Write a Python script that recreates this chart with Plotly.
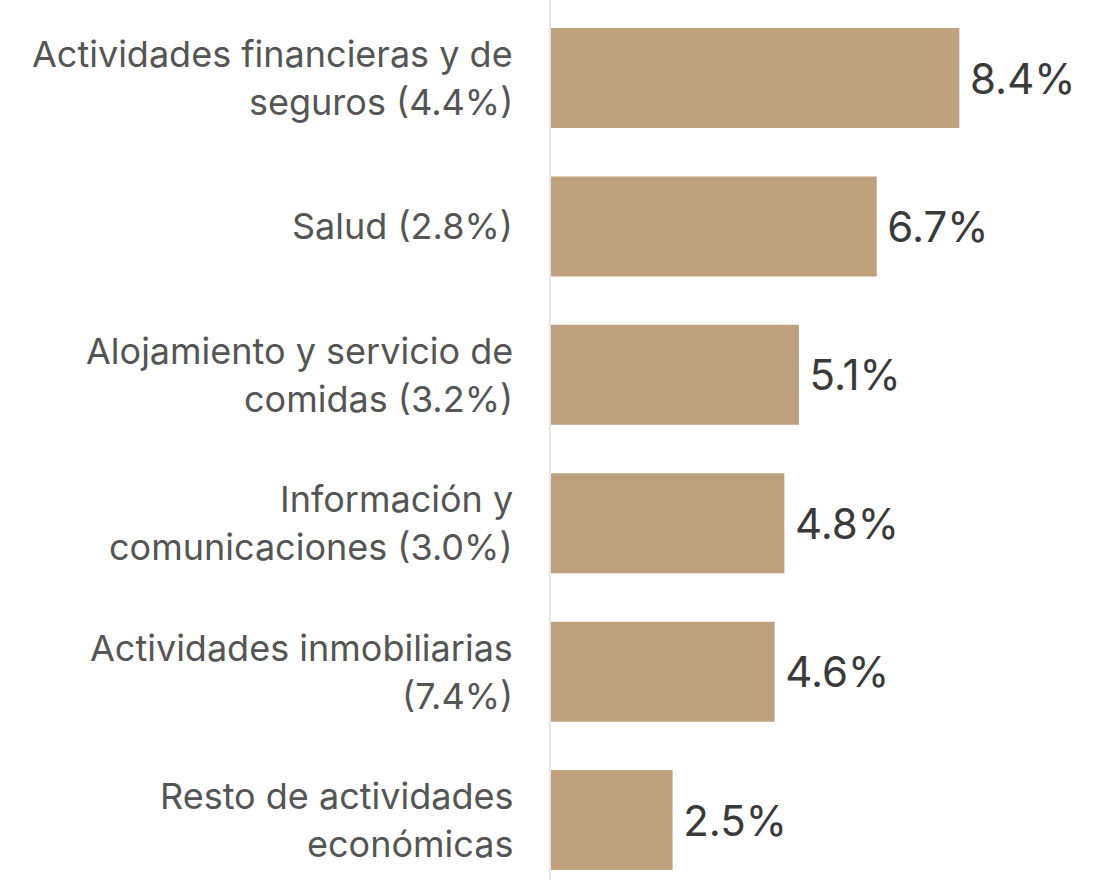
import plotly.graph_objects as go

categories = [
    "Actividades financieras y de<br>seguros (4.4%)",
    "Salud (2.8%)",
    "Alojamiento y servicio de<br>comidas (3.2%)",
    "Información y<br>comunicaciones (3.0%)",
    "Actividades inmobiliarias<br>(7.4%)",
    "Resto de actividades<br>económicas",
]
values = [8.4, 6.7, 5.1, 4.8, 4.6, 2.5]
value_labels = ["8.4%", "6.7%", "5.1%", "4.8%", "4.6%", "2.5%"]

FONT = "Inter"

fig = go.Figure(
    go.Bar(
        x=values,
        y=categories,
        orientation="h",
        marker=dict(color="#C0A17E", line=dict(width=0)),
        text=["\u2009" + t for t in value_labels],
        textposition="outside",
        textfont=dict(family=FONT, size=42, color="#3a3a3a"),
        cliponaxis=False,
        hoverinfo="skip",
    )
)

# category labels, one annotation per line for exact line spacing
LINE = 48
for cat in categories:
    lines = cat.split("<br>")
    n = len(lines)
    for i, ln in enumerate(lines):
        fig.add_annotation(
            x=0, y=cat, xref="x", yref="y",
            text=ln, showarrow=False,
            xanchor="right", yanchor="middle",
            xshift=-36,
            yshift=((n - 1) / 2 - i) * LINE,
            font=dict(family=FONT, size=36, color="#555555"),
        )

fig.update_layout(
    width=1095,
    height=880,
    margin=dict(l=551, r=0, t=0, b=0),
    plot_bgcolor="white",
    paper_bgcolor="white",
    bargap=0.326,
    showlegend=False,
    xaxis=dict(range=[0, 11.19], visible=False, showgrid=False, zeroline=False),
    yaxis=dict(
        categoryorder="array",
        categoryarray=categories,
        range=[5.404, -0.526],
        showgrid=False,
        zeroline=False,
        showline=True,
        linecolor="#e6e6e6",
        linewidth=2,
        ticks="",
        showticklabels=False,
    ),
)

fig.write_html(
    "out.html",
    config={"displayModeBar": False},
    post_script="document.body.style.margin='0';document.body.style.padding='0';",
)
